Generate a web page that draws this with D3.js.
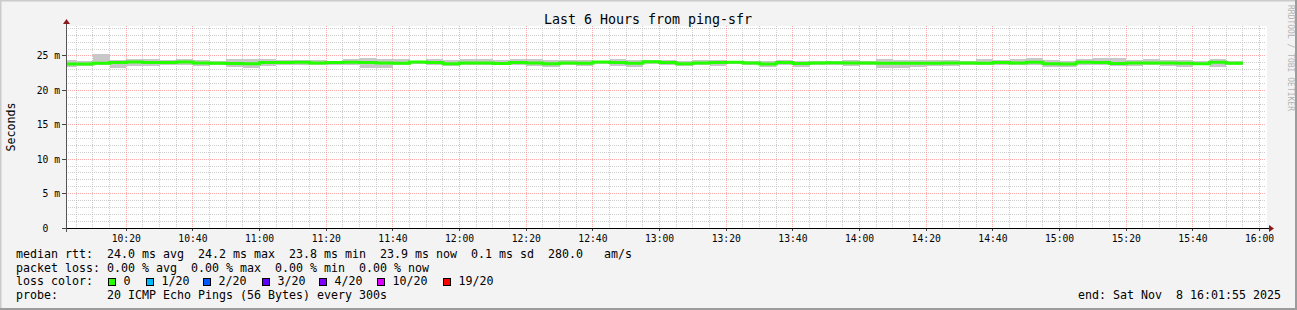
<!DOCTYPE html>
<html>
<head>
<meta charset="utf-8">
<script src="https://cdn.jsdelivr.net/npm/d3@7"></script>
<style>
  html, body { margin: 0; padding: 0; background: #f3f3f3; }
  svg { display: block; }
  text { font-family: "DejaVu Sans Mono", monospace; fill: #000; white-space: pre; }
</style>
</head>
<body>
<div id="graph"></div>
<script>
// ping-sfr, last 6 hours, 5 minute bins (first one is partial)
var binMinutes = 5;
var firstBin = Date.UTC(2025, 10, 8, 10, 0, 0);
var startTime = Date.UTC(2025, 10, 8, 10, 1, 55);
var endTime = Date.UTC(2025, 10, 8, 16, 1, 55);

// median rtt per bin (ms)
var medianRtt = [
  23.85, 23.82, 23.95, 24.05, 24.12, 24.05, 24.05, 24.12, 23.98, 23.95,
  23.90, 23.88, 24.05, 24.05, 24.10, 24.00, 24.05, 24.10, 24.05, 24.00,
  23.95, 24.12, 24.05, 23.88, 24.00, 24.00, 23.92, 24.05, 23.98, 23.88,
  24.00, 23.95, 24.12, 24.05, 23.95, 24.18, 24.05, 23.88, 23.98, 24.05,
  24.08, 23.98, 23.85, 24.05, 23.92, 24.00, 24.02, 23.98, 23.98, 23.95,
  23.95, 23.95, 23.95, 24.00, 23.98, 23.95, 24.05, 24.00, 24.10, 23.88,
  23.85, 24.08, 24.05, 23.92, 23.98, 24.00, 24.00, 23.95, 23.88, 24.10,
  23.95
];
// smoke: lowest and highest ping per bin (ms)
var smokeLo = [
  23.40, 23.50, 23.65, 23.30, 23.50, 23.50, 23.65, 23.65, 23.60, 23.75,
  23.35, 23.30, 23.55, 23.65, 23.75, 23.65, 23.75, 23.65, 23.30, 23.30,
  23.65, 23.80, 23.65, 23.55, 23.65, 23.75, 23.65, 23.65, 23.55, 23.45,
  23.65, 23.55, 23.85, 23.55, 23.45, 23.85, 23.65, 23.55, 23.65, 23.55,
  23.85, 23.65, 23.35, 23.75, 23.45, 23.75, 23.75, 23.55, 23.65, 23.30,
  23.30, 23.45, 23.55, 23.55, 23.65, 23.65, 23.75, 23.65, 23.65, 23.35,
  23.45, 23.75, 23.65, 23.55, 23.55, 23.65, 23.55, 23.45, 23.65, 23.35,
  23.65
];
var smokeHi = [
  24.35, 24.25, 25.30, 24.42, 24.50, 24.60, 24.42, 24.60, 24.42, 24.25,
  24.60, 24.60, 24.50, 24.35, 24.40, 24.35, 24.30, 24.50, 24.70, 24.50,
  24.60, 24.30, 24.50, 24.35, 24.60, 24.50, 24.35, 24.60, 24.60, 24.35,
  24.42, 24.42, 24.30, 24.50, 24.42, 24.42, 24.42, 24.25, 24.42, 24.42,
  24.30, 24.30, 24.25, 24.42, 24.25, 24.30, 24.25, 24.42, 24.30, 24.60,
  24.42, 24.42, 24.42, 24.42, 24.30, 24.50, 24.42, 24.60, 24.70, 24.42,
  24.30, 24.50, 24.70, 24.70, 24.42, 24.50, 24.42, 24.42, 24.25, 24.50,
  24.30
];

var yTicks = [0, 5, 10, 15, 20, 25];
var yUnit = "m";

var lossLabels = ["0", "1/20", "2/20", "3/20", "4/20", "10/20", "19/20"];
var lossColors = ["#26ff00", "#00b8ff", "#0059ff", "#5e00ff", "#7e00ff", "#dd00ff", "#ff0000"];

var legendRows = [
  "median rtt:  24.0 ms avg  24.2 ms max  23.8 ms min  23.9 ms now  0.1 ms sd  280.0   am/s",
  "packet loss: 0.00 % avg  0.00 % max  0.00 % min  0.00 % now",
  "loss color:",
  "probe:       20 ICMP Echo Pings (56 Bytes) every 300s"
];
var endLabel = "end: Sat Nov  8 16:01:55 2025";
var title = "Last 6 Hours from ping-sfr";

// layout (plotTop etc, "top" is taken by window.top)
var W = 1297, H = 310;
var plotLeft = 66, plotRight = 1266, plotTop = 26, plotBottom = 228;

var svg = d3.select("#graph").append("svg")
  .attr("width", W).attr("height", H);

// background + 3d frame
svg.append("rect").attr("width", W).attr("height", H).attr("fill", "#f3f3f3");
svg.append("path").attr("d", `M0,${H} V0 H${W}`).attr("fill", "none")
  .attr("stroke", "#cbcbcb").attr("stroke-width", 3);
svg.append("path").attr("d", `M${W},0 V${H} H0`).attr("fill", "none")
  .attr("stroke", "#9c9c9c").attr("stroke-width", 4);

var x = d3.scaleUtc().domain([startTime, endTime]).range([plotLeft, plotRight]);
var y = d3.scaleLinear().domain([0, 29.36]).range([plotBottom, plotTop]);

svg.append("rect")
  .attr("x", plotLeft).attr("y", plotTop)
  .attr("width", plotRight - plotLeft + 1).attr("height", plotBottom - plotTop)
  .attr("fill", "#fff");

svg.append("clipPath").attr("id", "plotclip")
  .append("rect").attr("x", plotLeft).attr("y", plotTop)
  .attr("width", plotRight - plotLeft).attr("height", plotBottom - plotTop);

// grid
var grid = svg.append("g");
var minorTimes = d3.utcMinute.every(5).range(new Date(startTime), new Date(endTime));
var majorTimes = minorTimes.filter(t => t.getUTCMinutes() % 20 == 0);
var px = v => Math.floor(v) + 0.5;

grid.selectAll(".vmin").data(minorTimes.filter(t => t.getUTCMinutes() % 20 != 0))
  .join("line")
  .attr("x1", d => px(x(d))).attr("x2", d => px(x(d)))
  .attr("y1", plotTop).attr("y2", plotBottom)
  .attr("stroke", "#bdbdbd").attr("stroke-opacity", 0.75)
  .attr("stroke-dasharray", "1,1");

var minorMs = d3.range(1, 30).filter(v => v % 5 != 0);
grid.selectAll(".hmin").data(minorMs)
  .join("line")
  .attr("x1", plotLeft).attr("x2", plotRight)
  .attr("y1", d => px(y(d))).attr("y2", d => px(y(d)))
  .attr("stroke", "#bdbdbd").attr("stroke-opacity", 0.75)
  .attr("stroke-dasharray", "1,1");

grid.selectAll(".vmaj").data(majorTimes)
  .join("line")
  .attr("x1", d => px(x(d))).attr("x2", d => px(x(d)))
  .attr("y1", plotTop).attr("y2", plotBottom)
  .attr("stroke", "#ff6f6f").attr("stroke-opacity", 0.6)
  .attr("stroke-dasharray", "1,1");

grid.selectAll(".hmaj").data(yTicks.filter(v => v > 0))
  .join("line")
  .attr("x1", plotLeft).attr("x2", plotRight)
  .attr("y1", d => px(y(d))).attr("y2", d => px(y(d)))
  .attr("stroke", "#ff6f6f").attr("stroke-opacity", 0.6)
  .attr("stroke-dasharray", "1,1");

// smoke + median
var bins = medianRtt.map((m, i) => ({
  t0: firstBin + i * binMinutes * 60000,
  t1: firstBin + (i + 1) * binMinutes * 60000,
  med: m, lo: smokeLo[i], hi: smokeHi[i]
}));

var data = svg.append("g").attr("clip-path", "url(#plotclip)");

data.selectAll(".smoke").data(bins)
  .join("rect")
  .attr("x", d => x(d.t0))
  .attr("width", d => x(d.t1) - x(d.t0))
  .attr("y", d => y(d.hi))
  .attr("height", d => y(d.lo) - y(d.hi))
  .attr("fill", "#c8c8c8")
  .attr("shape-rendering", "crispEdges");

var stepPts = bins.map(d => [x(d.t0), y(d.med)]);
stepPts.push([x(bins[bins.length - 1].t1), y(bins[bins.length - 1].med)]);

data.append("path")
  .attr("d", d3.line().curve(d3.curveStepAfter)(stepPts))
  .attr("fill", "none")
  .attr("stroke", lossColors[0])
  .attr("stroke-width", 3);

// axes
svg.append("line")
  .attr("x1", plotLeft - 4).attr("x2", plotRight + 3)
  .attr("y1", plotBottom + 0.5).attr("y2", plotBottom + 0.5)
  .attr("stroke", "#000");
svg.append("line")
  .attr("x1", plotLeft + 0.5).attr("x2", plotLeft + 0.5)
  .attr("y1", plotBottom + 4).attr("y2", plotTop - 3)
  .attr("stroke", "#555");
svg.append("path")
  .attr("d", `M${plotRight + 3},${plotBottom - 3} L${plotRight + 8},${plotBottom + 0.5} L${plotRight + 3},${plotBottom + 4} Z`)
  .attr("fill", "#8b1a1a");
svg.append("path")
  .attr("d", `M${plotLeft - 3},${plotTop - 2} L${plotLeft + 0.5},${plotTop - 7} L${plotLeft + 4},${plotTop - 2} Z`)
  .attr("fill", "#8b1a1a");

// ticks
svg.selectAll(".ytick").data(yTicks)
  .join("line")
  .attr("x1", plotLeft - 4).attr("x2", plotLeft)
  .attr("y1", d => px(y(d))).attr("y2", d => px(y(d)))
  .attr("stroke", "#444");
svg.selectAll(".xtick").data(majorTimes)
  .join("line")
  .attr("x1", d => px(x(d))).attr("x2", d => px(x(d)))
  .attr("y1", plotBottom + 1).attr("y2", plotBottom + 3)
  .attr("stroke", "#444");

// tick labels
svg.selectAll(".ylab").data(yTicks)
  .join("text")
  .attr("x", 60).attr("y", d => y(d) + 3.5)
  .attr("text-anchor", "end")
  .style("font-size", "9.7px")
  .text(d => d == 0 ? "0  " : d + " " + yUnit);

var fmt = d3.utcFormat("%H:%M");
svg.selectAll(".xlab").data(majorTimes)
  .join("text")
  .attr("x", d => x(d)).attr("y", 241.5)
  .attr("text-anchor", "middle")
  .style("font-size", "9.7px")
  .text(d => fmt(d));

// title and side texts
svg.append("text")
  .attr("x", 648).attr("y", 23.5)
  .attr("text-anchor", "middle")
  .style("font-size", "13.3px")
  .text(title);

svg.append("text")
  .attr("transform", `translate(15,${(plotTop + plotBottom) / 2}) rotate(-90)`)
  .attr("text-anchor", "middle")
  .style("font-size", "11.6px")
  .text("Seconds");

svg.append("text")
  .attr("transform", "translate(1288,5) rotate(90)")
  .style("font-size", "8px")
  .style("fill", "#b4b4b4")
  .text("RRDTOOL / TOBI OETIKER");

// legend
var rowY = [258, 271.7, 285.4, 299.1];
svg.selectAll(".leg").data(legendRows)
  .join("text")
  .attr("x", 16).attr("y", (d, i) => rowY[i])
  .style("font-size", "11.63px")
  .text(d => d);

var boxX = [108, 146, 203, 262, 319, 377, 443];
var lossG = svg.append("g");
lossG.selectAll("rect").data(lossColors)
  .join("rect")
  .attr("x", (d, i) => boxX[i] + 0.5).attr("y", 278.5)
  .attr("width", 7).attr("height", 7)
  .attr("fill", d => d)
  .attr("stroke", "#000");
lossG.selectAll("text").data(lossLabels)
  .join("text")
  .attr("x", (d, i) => boxX[i] + 15.5).attr("y", rowY[2])
  .style("font-size", "11.63px")
  .text(d => d);

svg.append("text")
  .attr("x", 1281).attr("y", rowY[3])
  .attr("text-anchor", "end")
  .style("font-size", "11.63px")
  .text(endLabel);
</script>
</body>
</html>
